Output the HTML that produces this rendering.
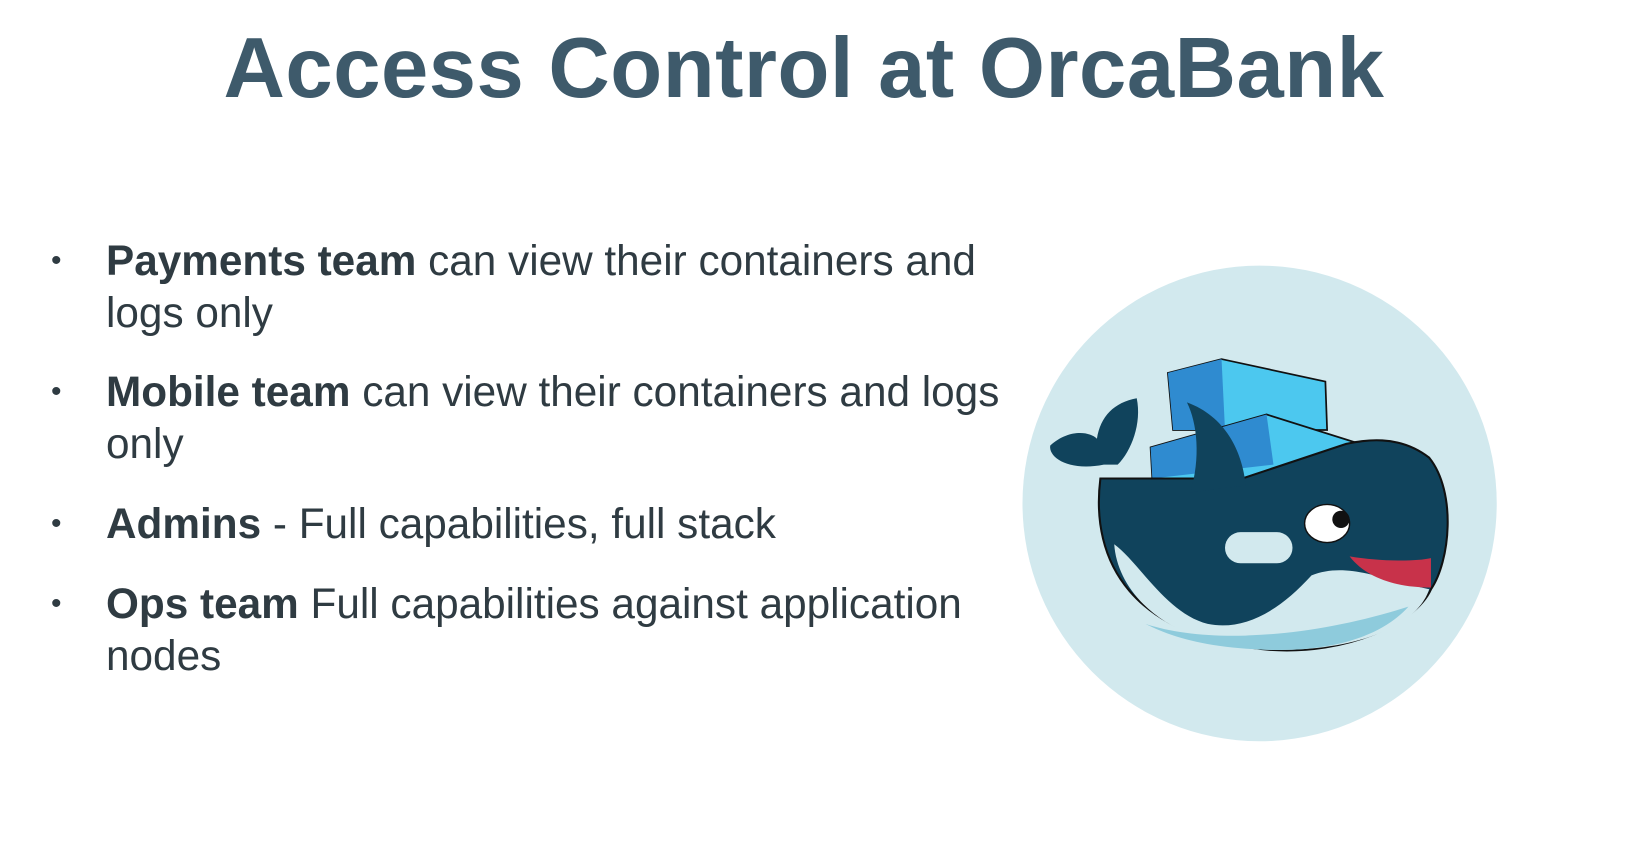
<!DOCTYPE html>
<html><head><meta charset="utf-8"><style>
html,body{margin:0;padding:0;background:#fff;}
body{width:1640px;height:866px;position:relative;overflow:hidden;font-family:"Liberation Sans",sans-serif;}
h1{position:absolute;left:0;width:1608px;top:20px;margin:0;text-align:center;font-size:85px;font-weight:bold;color:#3e5a6b;letter-spacing:0.5px;}
.b{position:absolute;left:106px;width:930px;font-size:42.3px;line-height:51.5px;color:#2f3b42;}
.b:before{content:"•";position:absolute;left:-55px;font-size:30px;}
.b strong{color:#2f3b42;}
svg{position:absolute;left:1000px;top:250px;overflow:visible;}
</style></head><body>
<h1>Access Control at OrcaBank</h1>
<div class="b" style="top:235px"><strong>Payments team</strong> can view their containers and logs only</div>
<div class="b" style="top:366px"><strong>Mobile team</strong> can view their containers and logs only</div>
<div class="b" style="top:498px"><strong>Admins</strong> - Full capabilities, full stack</div>
<div class="b" style="top:578px"><strong>Ops team</strong> Full capabilities against application nodes</div>
<svg width="540" height="520" viewBox="0 0 1560 1502">
<ellipse cx="750" cy="732" rx="685" ry="687" fill="#d2e9ee"/>
<polygon points="485,355 640,315 940,380 945,520 500,520" fill="#4cc8ef" stroke="#111" stroke-width="5"/>
<polygon points="485,355 640,315 650,520 500,520" fill="#2f8bd0"/>
<polygon points="435,570 770,475 1040,560 700,660 440,660" fill="#4cc8ef" stroke="#111" stroke-width="5"/>
<polygon points="435,570 770,475 790,620 440,660" fill="#2f8bd0"/>
<path d="M300 620 C200 640 140 600 145 565 C200 515 260 525 280 545 C290 480 330 440 395 428 C410 500 380 580 340 620 Z" fill="#10435c"/>
<path d="M290 660 C260 900 380 1120 780 1155 C1000 1170 1200 1080 1245 980 C1300 900 1320 700 1240 600 C1150 530 1050 550 1000 560 L700 660 L290 660 Z" fill="#10435c" stroke="#111" stroke-width="6"/>
<path d="M540 440 C650 480 700 580 710 680 L550 700 C580 600 570 500 540 440Z" fill="#10435c"/>
<path d="M330 850 C400 900 480 1050 600 1080 C700 1100 800 1050 900 940 C1000 900 1100 950 1240 980 C1200 1100 1000 1160 780 1155 C500 1150 340 1000 330 850Z" fill="#d2e9ee"/>
<path d="M420 1080 C600 1140 900 1120 1180 1030 C1100 1120 950 1160 780 1155 C600 1150 500 1120 420 1080Z" fill="#8ecbdc"/>
<rect x="650" y="815" width="195" height="90" rx="45" fill="#d2e9ee"/>
<ellipse cx="945" cy="790" rx="65" ry="55" fill="#fff" stroke="#111" stroke-width="4"/>
<circle cx="985" cy="778" r="25" fill="#111"/>
<path d="M1010 885 C1100 900 1200 900 1245 890 L1245 975 C1150 975 1060 950 1010 885Z" fill="#c8324a"/>
</svg>
</body></html>
